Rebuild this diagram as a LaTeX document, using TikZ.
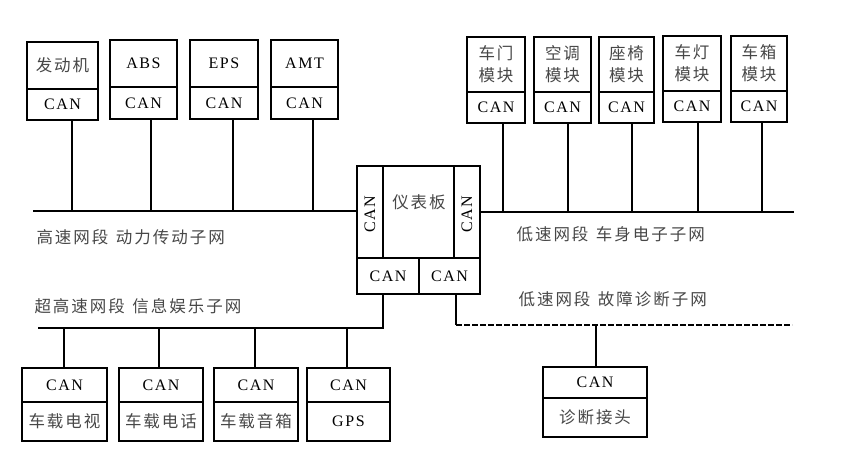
\documentclass[tikz,border=0pt]{standalone}
\usepackage{fontspec}
\newfontfamily\cnfont[LetterSpace=12]{Noto Sans CJK SC}
\newfontfamily\canfont[LetterSpace=10]{Liberation Serif}
\begin{document}
\begin{tikzpicture}[x=1pt,y=-1pt,
  box/.style={draw, line width=1.3pt, inner sep=0pt, outer sep=0pt, anchor=north west, align=center},
  cn/.style={font=\cnfont\fontsize{16.5}{22}\selectfont, text=black!72, align=center},
  can/.style={font=\canfont\fontsize{16}{18}\selectfont, text=black},
  bus/.style={line width=1.6pt},
  link/.style={line width=1.3pt},
  diag/.style={line width=1.6pt, dash pattern=on 6pt off 2pt}]
\useasboundingbox (0,0) rectangle (842,462);

% ---- high-speed powertrain modules
\node[box, cn, minimum width=71pt, minimum height=47pt] (m1) at (27,42) {发动机};
\node[box, can, minimum width=71pt, minimum height=31pt] (m1c) at (27,89) {CAN};
\node[box, can, minimum width=67pt, minimum height=47pt] (m2) at (110,40) {ABS};
\node[box, can, minimum width=67pt, minimum height=32pt] (m2c) at (110,87) {CAN};
\node[box, can, minimum width=68pt, minimum height=47pt] (m3) at (190,40) {EPS};
\node[box, can, minimum width=68pt, minimum height=32pt] (m3c) at (190,87) {CAN};
\node[box, can, minimum width=67pt, minimum height=47pt] (m4) at (271,40) {AMT};
\node[box, can, minimum width=67pt, minimum height=32pt] (m4c) at (271,87) {CAN};

% ---- body modules
\node[box, cn, minimum width=58pt, minimum height=55pt] (r1) at (467,37) {车门\\模块};
\node[box, can, minimum width=58pt, minimum height=31pt] (r1c) at (467,92) {CAN};
\node[box, cn, minimum width=57pt, minimum height=55pt] (r2) at (534,37) {空调\\模块};
\node[box, can, minimum width=57pt, minimum height=31pt] (r2c) at (534,92) {CAN};
\node[box, cn, minimum width=55pt, minimum height=55pt] (r3) at (599,37) {座椅\\模块};
\node[box, can, minimum width=55pt, minimum height=31pt] (r3c) at (599,92) {CAN};
\node[box, cn, minimum width=58pt, minimum height=55pt] (r4) at (663,36) {车灯\\模块};
\node[box, can, minimum width=58pt, minimum height=31pt] (r4c) at (663,91) {CAN};
\node[box, cn, minimum width=56pt, minimum height=55pt] (r5) at (731,36) {车箱\\模块};
\node[box, can, minimum width=56pt, minimum height=31pt] (r5c) at (731,91) {CAN};

% ---- instrument panel
\node[box, minimum width=26pt, minimum height=92pt] (ipL) at (357,166) {};
\node[box, minimum width=71pt, minimum height=92pt] (ipM) at (383,166) {};
\node[box, minimum width=26pt, minimum height=92pt] (ipR) at (454,166) {};
\node[box, can, minimum width=62pt, minimum height=36pt] (ipBL) at (357,258) {CAN};
\node[box, can, minimum width=61pt, minimum height=36pt] (ipBR) at (419,258) {CAN};
\node[can, rotate=90] (ipLt) at (370,214) {CAN};
\node[can, rotate=90] (ipRt) at (467,214) {CAN};
\node[cn] (ipMt) at (419,202) {仪表板};

% ---- infotainment modules
\node[box, can, minimum width=85pt, minimum height=34pt] (b1c) at (22,368) {CAN};
\node[box, cn, minimum width=85pt, minimum height=39pt] (b1) at (22,402) {车载电视};
\node[box, can, minimum width=84pt, minimum height=34pt] (b2c) at (119,368) {CAN};
\node[box, cn, minimum width=84pt, minimum height=39pt] (b2) at (119,402) {车载电话};
\node[box, can, minimum width=84pt, minimum height=34pt] (b3c) at (214,368) {CAN};
\node[box, cn, minimum width=84pt, minimum height=39pt] (b3) at (214,402) {车载音箱};
\node[box, can, minimum width=83pt, minimum height=34pt] (b4c) at (307,368) {CAN};
\node[box, can, minimum width=83pt, minimum height=39pt] (b4) at (307,402) {GPS};

% ---- diagnostic connector
\node[box, can, minimum width=104pt, minimum height=31pt] (dc) at (543,367) {CAN};
\node[box, cn, minimum width=104pt, minimum height=39pt] (d) at (543,398) {诊断接头};

% ---- bus coordinates
\coordinate (hsL) at (33,211);
\coordinate (lsR) at (794,212);
\coordinate (uhL) at (38,328);
\coordinate (uhR) at (383,328);
\coordinate (dgC) at (456,325);
\coordinate (dgR) at (792,325);

% high-speed bus
\draw[bus] (hsL) -- (hsL -| ipL.west);
\foreach \x/\n in {72/m1c,151/m2c,233/m3c,313/m4c}
  \draw[link] (\x,211) -- (\x,0 |- \n.south);

% low-speed body bus
\draw[bus] (ipR.east |- lsR) -- (lsR);
\foreach \x/\n in {503/r1c,568/r2c,632/r3c,698/r4c,762/r5c}
  \draw[link] (\x,212) -- (\x,0 |- \n.south);

% ultra-high-speed infotainment bus
\draw[bus] (uhR |- ipBL.south) -- (uhR) -- (uhL);
\foreach \x/\n in {64/b1c,159/b2c,255/b3c,347/b4c}
  \draw[link] (\x,328) -- (\x,0 |- \n.north);

% diagnostic bus
\draw[bus] (dgC |- ipBR.south) -- (dgC);
\draw[diag] (dgC) -- (dgR);
\draw[link] (596,325) -- (596,0 |- dc.north);

% ---- labels
\node[cn, anchor=west] (l1) at (33,237) {高速网段\hspace{0.45em}动力传动子网};
\node[cn, anchor=west] (l2) at (513,234) {低速网段\hspace{0.45em}车身电子子网};
\node[cn, anchor=west] (l3) at (31,306) {超高速网段\hspace{0.45em}信息娱乐子网};
\node[cn, anchor=west] (l4) at (515,299) {低速网段\hspace{0.45em}故障诊断子网};
\end{tikzpicture}
\end{document}
